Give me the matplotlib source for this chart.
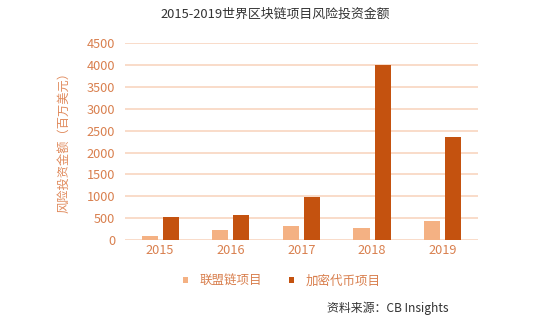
import matplotlib
matplotlib.use("Agg")
import matplotlib.pyplot as plt
import numpy as np

plt.rcParams['font.family'] = ['Noto Sans CJK SC', 'DejaVu Sans']

years = ['2015', '2016', '2017', '2018', '2019']
consortium = [95, 225, 320, 265, 425]
crypto = [520, 580, 975, 4000, 2350]
yticks = [0, 500, 1000, 1500, 2000, 2500, 3000, 3500, 4000, 4500]

light = '#F4B183'
dark = '#C4520F'
grid_c = '#F8D5C0'
tick_c = '#D9804F'
label_c = '#E08A5C'

fig = plt.figure(figsize=(5.5, 3.22), dpi=100)
ax = fig.add_axes([0.227, 0.2547, 0.642, 0.611])

x = np.arange(len(years))
w = 0.227
off = 0.149
ax.bar(x - off, consortium, w, color=light, zorder=3, label='联盟链项目')
ax.bar(x + off, crypto, w, color=dark, zorder=3, label='加密代币项目')

ax.set_xlim(-0.5, len(years) - 0.5)
ax.set_ylim(0, 4500)
ax.set_yticks(yticks)
ax.set_yticklabels([str(v) for v in yticks])
ax.set_xticks(x)
ax.set_xticklabels(years)
ax.yaxis.grid(True, color=grid_c, linewidth=1.2, zorder=0)
ax.set_axisbelow(True)
for s in ax.spines.values():
    s.set_visible(False)
ax.tick_params(axis='both', length=0, colors=tick_c, labelsize=9.2)
ax.tick_params(axis='y', pad=7)
ax.tick_params(axis='x', pad=3)

ax.set_ylabel('风险投资金额（百万美元）', color=label_c, fontsize=8.8)
ax.yaxis.set_label_coords(-0.154, 0.51)

fig.text(0.5, 0.955, '2015-2019世界区块链项目风险投资金额', ha='center', va='center',
         fontsize=9.3, color='#333333')

leg = ax.legend(loc='center', bbox_to_anchor=(0.445, -0.21), ncol=2, frameon=False,
                fontsize=9, handlelength=0.4, handleheight=0.4, columnspacing=2.2,
                handletextpad=0.9)
for t in leg.get_texts():
    t.set_color(tick_c)

fig.text(0.815, 0.043, '资料来源：CB Insights', ha='right', va='center',
         fontsize=8.6, color='#333333')

fig.savefig('out.png', dpi=100)
